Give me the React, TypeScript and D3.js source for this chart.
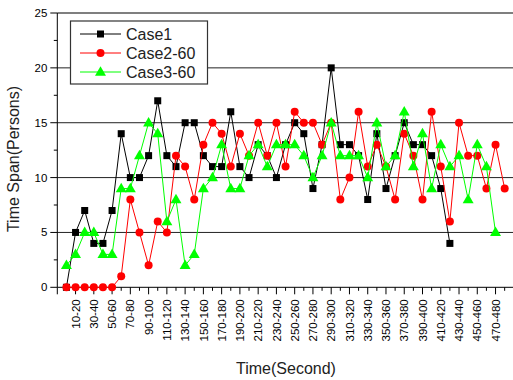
import React from 'react';
import * as d3 from 'd3';

// time slots, 10 s wide, starting at 0-10
const slots = d3.range(0, 49).map((i) => `${i * 10}-${i * 10 + 10}`);

const case1 = [0, 5, 7, 4, 4, 7, 14, 10, 10, 12, 17, 12, 11, 15, 15, 12, 11, 11, 16, 11, 10, 13, 12, 10, 13, 15, 14, 9, 13, 20, 13, 13, 12, 8, 14, 9, 12, 15, 13, 13, 12, 9, 4];
const case2 = [0, 0, 0, 0, 0, 0, 1, 8, 5, 2, 6, 5, 12, 11, 8, 13, 15, 14, 11, 14, 12, 15, 12, 15, 11, 16, 15, 15, 13, 15, 8, 10, 16, 11, 13, 11, 8, 14, 12, 8, 16, 11, 6, 15, 12, 12, 9, 13, 9];
const case3 = [2, 3, 5, 5, 3, 3, 9, 9, 12, 15, 14, 6, 8, 2, 3, 9, 10, 13, 9, 9, 12, 13, 11, 13, 13, 13, 12, 10, 12, 15, 12, 12, 12, 10, 15, 11, 12, 16, 11, 14, 9, 13, 11, 12, 8, 13, 11, 5];

const yTicks = [0, 5, 10, 15, 20, 25];
const seriesNames = ['Case1', 'Case2-60', 'Case3-60'];

const W = 513;
const H = 380;
const font = '"Liberation Sans", Arial, sans-serif';

export default function App(): JSX.Element {
  const x = d3.scaleLinear().domain([-1, 49]).range([57.3, 513.8]);
  const y = d3.scaleLinear().domain([0, 25]).range([287.3, 13]);

  const line = d3
    .line<number>()
    .x((_, i) => x(i))
    .y((d) => y(d));

  const series = [
    { name: seriesNames[0], values: case1, color: '#000000', shape: 'square' },
    { name: seriesNames[1], values: case2, color: '#ff0000', shape: 'circle' },
    { name: seriesNames[2], values: case3, color: '#00ff00', shape: 'triangle' }
  ];

  const marker = (shape: string, cx: number, cy: number, color: string, key?: number) => {
    if (shape === 'square') {
      return <rect key={key} x={cx - 3.5} y={cy - 3.5} width={7} height={7} fill={color} />;
    }
    if (shape === 'circle') {
      return <circle key={key} cx={cx} cy={cy} r={4} fill={color} />;
    }
    const tri = d3.symbol(d3.symbolTriangle, 52)();
    return <path key={key} d={tri as string} transform={`translate(${cx},${cy + 0.5})`} fill={color} />;
  };

  const minorY = d3.range(2.5, 25, 5);
  const xTickIdx = d3.range(-1, 49);

  return (
    <svg width={W} height={H} style={{ position: 'absolute', left: 0, top: 0, background: '#fff' }}>
      {/* grid */}
      {yTicks.slice(1).map((t) => (
        <line key={t} x1={x(-1)} x2={W} y1={y(t)} y2={y(t)} stroke={t === 25 ? '#555' : '#222'} strokeWidth={t === 25 ? 1.5 : 1} />
      ))}

      {/* y axis */}
      <line x1={x(-1)} x2={x(-1)} y1={y(0)} y2={y(25)} stroke="#000" />
      {yTicks.map((t) => (
        <g key={t}>
          <line x1={x(-1) - 7} x2={x(-1)} y1={y(t)} y2={y(t)} stroke="#000" />
          <text x={x(-1) - 10} y={y(t)} dy="0.35em" textAnchor="end" fontFamily={font} fontSize={11.5} fill="#000">
            {t}
          </text>
        </g>
      ))}
      {minorY.map((t) => (
        <line key={t} x1={x(-1) - 3.5} x2={x(-1)} y1={y(t)} y2={y(t)} stroke="#000" />
      ))}

      {/* x axis */}
      <line x1={x(-1)} x2={W} y1={y(0)} y2={y(0)} stroke="#000" />
      {xTickIdx.map((i) => {
        const major = Math.abs(i) % 2 === 1;
        return <line key={i} x1={x(i)} x2={x(i)} y1={y(0)} y2={y(0) + (major ? 7 : 3.5)} stroke="#000" />;
      })}
      {slots.map((s, i) =>
        i % 2 === 1 ? (
          <text
            key={s}
            transform={`translate(${x(i)},${y(0) + 12}) rotate(-90)`}
            dy="0.36em"
            textAnchor="end"
            fontFamily={font}
            fontSize={11.5}
            fill="#000"
          >
            {s}
          </text>
        ) : null
      )}

      {/* series */}
      {series.map((s) => (
        <g key={s.name}>
          <path d={line(s.values) as string} fill="none" stroke={s.color} strokeWidth={1} />
          {s.values.map((v, i) => marker(s.shape, x(i), y(v), s.color, i))}
        </g>
      ))}

      {/* legend */}
      <rect x={70.5} y={21} width={137} height={63} fill="#fff" stroke="#333" strokeWidth={1.2} />
      {series.map((s, i) => {
        const ly = 34 + i * 19;
        return (
          <g key={s.name}>
            <line x1={80} x2={121} y1={ly} y2={ly} stroke={s.color} />
            {marker(s.shape, 100.5, ly, s.color)}
            <text x={126} y={ly} dy="0.36em" fontFamily={font} fontSize={16} fill="#222">
              {s.name}
            </text>
          </g>
        );
      })}

      {/* axis titles */}
      <text x={286} y={374} textAnchor="middle" fontFamily={font} fontSize={16} fill="#222">
        Time(Second)
      </text>
      <text transform="translate(19,159) rotate(-90)" textAnchor="middle" fontFamily={font} fontSize={16} fill="#222">
        Time Span(Persons)
      </text>
    </svg>
  );
}
